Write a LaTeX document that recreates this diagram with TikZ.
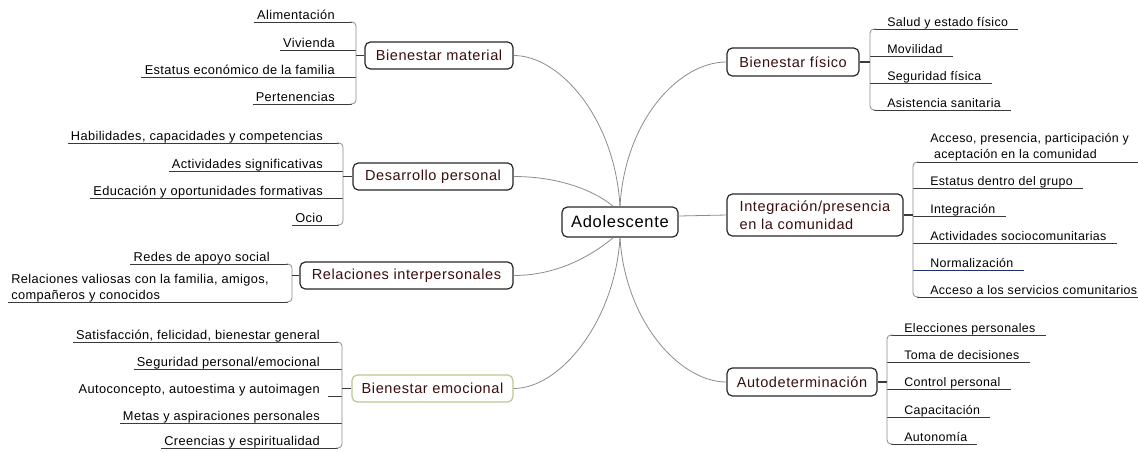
\documentclass[tikz,border=0pt]{standalone}
\usepackage{fontspec}
\setmainfont{Liberation Sans}
\newfontfamily\leaffont[LetterSpace=3]{Liberation Sans}
\newfontfamily\boxfont[LetterSpace=4]{Liberation Sans}
\definecolor{topictext}{HTML}{3A0E0E}
\definecolor{linkgray}{HTML}{8C8C8C}
\definecolor{brgray}{HTML}{8A8A8A}
\definecolor{ulgray}{HTML}{3A3A3A}
\definecolor{navy}{HTML}{1E2E6E}
\definecolor{olive}{HTML}{B9C98E}
\begin{document}
\begin{tikzpicture}[x=0.75pt,y=-0.75pt,
  hub/.style={draw=black!85, line width=0.9pt, rounded corners=4pt, fill=white,
    font=\boxfont\fontsize{12.4}{14}\selectfont, minimum width=87pt,
    minimum height=22.5pt, inner sep=0pt},
  topic/.style={draw=black!85, line width=0.9pt, rounded corners=4pt, fill=white,
    text=topictext, font=\boxfont\fontsize{10.9}{13.2}\selectfont,
    minimum height=20.25pt, inner sep=0pt},
  lleaf/.style={anchor=base east, inner xsep=2.25pt, inner ysep=0pt,
    font=\leaffont\fontsize{9.6}{11}\selectfont},
  rleaf/.style={anchor=base west, inner xsep=7.5pt, inner ysep=0pt,
    font=\leaffont\fontsize{9.3}{11}\selectfont},
  ul/.style={draw=ulgray, line width=0.65pt},
  brk/.style={draw=brgray, line width=0.6pt, rounded corners=3pt},
  stub/.style={draw=ulgray, line width=0.8pt},
  link/.style={draw=linkgray, line width=0.6pt}]

\path[use as bounding box] (0,0) rectangle (1138,451);

% central topic
\node[hub] (ado) at (620,222) {Adolescente};

% main branches
\node[topic, minimum width=111pt] (mat) at (439,55.5) {Bienestar material};
\node[topic, minimum width=120pt] (des) at (433,176.5) {Desarrollo personal};
\node[topic, minimum width=159.75pt] (rel) at (406.5,275.5) {Relaciones interpersonales};
\node[topic, minimum width=120.75pt, draw=olive] (emo) at (432.5,388.5) {Bienestar emocional};
\node[topic, minimum width=99pt, minimum height=21pt] (fis) at (793,62) {Bienestar físico};
\node[topic, minimum width=132pt, minimum height=31.5pt, align=left] (int) at (815,215)
  {Integración/presencia\\en la comunidad};
\node[topic, minimum width=112.5pt, minimum height=21pt] (aut) at (802,382) {Autodeterminación};

% links from the centre
\draw[link] (mat.east) .. controls +(47,0) and +(-5,-87) .. (ado.north);
\draw[link] (des.east) .. controls +(47,0) and +(-18,-15) .. ([xshift=-5pt]ado.north);
\draw[link] (rel.east) .. controls +(47,0) and +(-18,15) .. ([xshift=-5pt]ado.south);
\draw[link] (emo.east) .. controls +(47,0) and +(-5,83) .. (ado.south);
\draw[link] (ado.north) .. controls +(5,-87) and +(-47,0) .. (fis.west);
\draw[link] ([yshift=4.5pt]ado.east) -- (int.west);
\draw[link] (ado.south) .. controls +(5,83) and +(-47,0) .. (aut.west);

% --- Bienestar material
\node[lleaf] (m1) at (338,19.5) {Alimentación};
\node[lleaf] (m2) at (338,47.5) {Vivienda};
\node[lleaf] (m3) at (338,74.5) {Estatus económico de la familia};
\node[lleaf] (m4) at (338,101.5) {Pertenencias};
\draw[ul] (m1.west |- 0,22) -- (352,22);
\draw[ul] (m2.west |- 0,50) -- (356,50);
\draw[ul] (m3.west |- 0,77) -- (356,77);
\draw[ul] (m4.west |- 0,104) -- (352,104);
\draw[brk] (350,22) -- (356,22) -- (356,104) -- (350,104);
\draw[stub] (356,55.5) -- (mat.west);

% --- Desarrollo personal
\node[lleaf] (d1) at (326,140.5) {Habilidades, capacidades y competencias};
\node[lleaf] (d2) at (326,168.5) {Actividades significativas};
\node[lleaf] (d3) at (326,195.5) {Educación y oportunidades formativas};
\node[lleaf] (d4) at (326,222.5) {Ocio};
\draw[ul] (d1.west |- 0,143) -- (339,143);
\draw[ul] (d2.west |- 0,171) -- (343,171);
\draw[ul] (d3.west |- 0,198) -- (343,198);
\draw[ul] (d4.west |- 0,225) -- (339,225);
\draw[brk] (337,143) -- (343,143) -- (343,225) -- (337,225);
\draw[stub] (343,176.5) -- (des.west);

% --- Relaciones interpersonales
\node[lleaf] (r1) at (273,261.5) {Redes de apoyo social};
\node[anchor=south west, inner xsep=2.25pt, inner ysep=0pt, align=left,
  font=\leaffont\fontsize{9.6}{11.5}\selectfont] (r2) at (8,302)
  {Relaciones valiosas con la familia, amigos,\\compañeros y conocidos};
\draw[ul] (r1.west |- 0,264) -- (288,264);
\draw[ul] (r2.south west) -- (288,302);
\draw[brk] (286,264) -- (292,264) -- (292,302) -- (286,302);
\draw[stub] (292,275.5) -- (rel.west);

% --- Bienestar emocional
\node[lleaf] (e1) at (323,339.5) {Satisfacción, felicidad, bienestar general};
\node[lleaf] (e2) at (323,366.5) {Seguridad personal/emocional};
\node[lleaf] (e3) at (323,393.5) {Autoconcepto, autoestima y autoimagen};
\node[lleaf] (e4) at (323,420.5) {Metas y aspiraciones personales};
\node[lleaf] (e5) at (323,445.5) {Creencias y espiritualidad};
\draw[ul] (e1.west |- 0,342) -- (338,342);
\draw[ul] (e2.west |- 0,369) -- (342,369);
\draw[ul] ([xshift=3.5pt]e3.east |- 0,396) -- (342,396);
\draw[ul] (e4.west |- 0,423) -- (342,423);
\draw[ul] (e5.west |- 0,448) -- (338,448);
\draw[brk] (336,342) -- (342,342) -- (342,448) -- (336,448);
\draw[stub] (342,388.5) -- (emo.west);

% --- Bienestar físico
\node[rleaf] (f1) at (877,26.5) {Salud y estado físico};
\node[rleaf] (f2) at (877,53.5) {Movilidad};
\node[rleaf] (f3) at (877,80.5) {Seguridad física};
\node[rleaf] (f4) at (877,107.5) {Asistencia sanitaria};
\draw[ul] (874,29) -- (f1.east |- 0,29);
\draw[ul] (870,56) -- (f2.east |- 0,56);
\draw[ul] (870,83) -- (f3.east |- 0,83);
\draw[ul] (874,110) -- (f4.east |- 0,110);
\draw[brk] (876,29) -- (870,29) -- (870,110) -- (876,110);
\draw[stub] (fis.east) -- (870,62);

% --- Integración/presencia en la comunidad
\node[anchor=south west, inner xsep=0pt, inner ysep=0pt, align=left,
  font=\leaffont\fontsize{9.3}{11.5}\selectfont] (i1) at (930,161)
  {Acceso, presencia, participación y\\\ aceptación en la comunidad};
\node[rleaf] (i2) at (920,185.5) {Estatus dentro del grupo};
\node[rleaf] (i3) at (920,213.5) {Integración};
\node[rleaf] (i4) at (920,240.5) {Actividades sociocomunitarias};
\node[rleaf] (i5) at (920,267.5) {Normalización};
\node[rleaf, inner xsep=3pt, xshift=4.5pt] (i6) at (920,294.5) {Acceso a los servicios comunitarios};
\coordinate (edge) at (1138,162);
\draw[ul] (917,162) -- (edge);
\draw[ul] (913,188) -- (i2.east |- 0,188);
\draw[ul] (913,216) -- (i3.east |- 0,216);
\draw[ul] (913,243) -- (i4.east |- 0,243);
\draw[ul, draw=navy] (913,270) -- (i5.east |- 0,270);
\draw[ul] (917,297) -- (i6.east |- 0,297);
\draw[brk] (919,162) -- (913,162) -- (913,297) -- (919,297);
\draw[stub] (int.east) -- (913,215);

% --- Autodeterminación
\node[rleaf] (a1) at (894,332.5) {Elecciones personales};
\node[rleaf] (a2) at (894,359.5) {Toma de decisiones};
\node[rleaf] (a3) at (894,386.5) {Control personal};
\node[rleaf] (a4) at (894,414.5) {Capacitación};
\node[rleaf] (a5) at (894,441.5) {Autonomía};
\draw[ul] (891,335) -- (a1.east |- 0,335);
\draw[ul] (887,362) -- (a2.east |- 0,362);
\draw[ul] (887,389) -- (a3.east |- 0,389);
\draw[ul] (887,417) -- (a4.east |- 0,417);
\draw[ul] (891,444) -- (a5.east |- 0,444);
\draw[brk] (893,335) -- (887,335) -- (887,444) -- (893,444);
\draw[stub] (aut.east) -- (887,382);

\end{tikzpicture}
\end{document}
